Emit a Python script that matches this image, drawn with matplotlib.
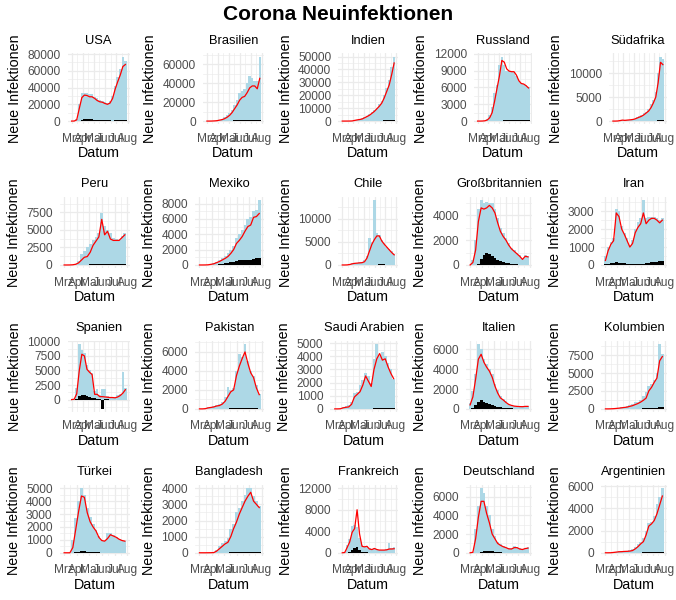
import numpy as np
import matplotlib
matplotlib.use('Agg')
import matplotlib.pyplot as plt
import matplotlib.dates as mdates
from matplotlib.ticker import MultipleLocator, FuncFormatter

plt.rcParams['font.family'] = ['Liberation Sans', 'DejaVu Sans']

# weekly values, first week starts 2020-03-01
cases_usa = [0, 100, 3000, 20000, 33000, 34000, 34000, 32000, 32000, 29000, 27000, 25000, 24000, 23000, 22000, 24000, 30000, 42000, 52000, 62000, 77000, 72000]
trend_usa = [0, 50, 1500, 15000, 28000, 31000, 30500, 29000, 29000, 27000, 24500, 23000, 22500, 21000, 20000, 21500, 27000, 38000, 47000, 55000, 65000, 67500]
deaths_usa = [0, 0, 10, 300, 1200, 2000, 2200, 2000, 1900, 1800, 1500, 1300, 1100, 900, 800, 700, 600, 700, 800, 900, 1000, 1100]

cases_bra = [0, 0, 100, 300, 800, 1500, 2500, 4000, 6000, 9000, 12000, 17000, 22000, 30000, 32000, 34000, 40000, 47000, 45000, 42000, 42000, 68000]
trend_bra = [0, 0, 50, 200, 400, 1000, 1500, 2500, 4000, 6000, 9000, 13000, 17000, 22000, 25000, 26000, 30000, 35000, 37000, 37000, 34000, 45000]
deaths_bra = [0, 0, 0, 5, 20, 60, 100, 150, 250, 400, 600, 800, 900, 1000, 1000, 1000, 1100, 1100, 1100, 1100, 1100, 1100]

cases_ind = [0, 0, 20, 60, 200, 700, 1200, 1500, 2000, 3500, 4000, 5500, 7000, 8500, 10500, 13000, 15500, 20000, 26000, 32000, 42000, 50000]
trend_ind = [0, 0, 10, 30, 100, 500, 900, 1200, 1600, 2500, 3500, 4500, 6000, 7500, 9500, 11500, 14000, 18000, 23000, 28000, 36000, 45000]
deaths_ind = [0, 0, 0, 1, 5, 20, 30, 40, 50, 80, 100, 130, 150, 200, 300, 400, 400, 450, 500, 550, 650, 750]

cases_rus = [0, 0, 20, 100, 300, 1000, 2500, 5000, 6500, 10000, 11500, 10000, 9000, 9000, 8800, 8800, 8000, 7200, 6800, 6600, 6400, 6000]
trend_rus = [0, 0, 10, 50, 200, 600, 1500, 3500, 5800, 8000, 10800, 10500, 9300, 8900, 8800, 8800, 8200, 7200, 6700, 6600, 6300, 5900]
deaths_rus = [0, 0, 0, 0, 1, 5, 15, 30, 50, 80, 100, 120, 150, 170, 150, 130, 120, 130, 140, 120, 110, 110]

cases_zaf = [0, 0, 50, 200, 250, 200, 300, 300, 400, 500, 800, 1000, 1300, 1600, 2000, 2500, 3500, 4500, 6000, 10000, 13500, 13000]
trend_zaf = [0, 0, 20, 100, 200, 150, 200, 250, 300, 400, 600, 800, 1000, 1300, 1700, 2100, 2800, 3800, 5000, 8000, 12300, 11800]
deaths_zaf = [0, 0, 0, 0, 1, 2, 3, 5, 10, 15, 20, 25, 30, 40, 50, 60, 70, 90, 110, 130, 180, 200]

cases_per = [0, 0, 10, 60, 200, 500, 1500, 2000, 2500, 3000, 3600, 4000, 4500, 7400, 5500, 5000, 4500, 3800, 3700, 3600, 4200, 4500]
trend_per = [0, 0, 5, 30, 100, 300, 700, 1100, 1200, 1800, 2800, 3400, 4000, 6500, 4300, 4800, 3700, 3500, 3500, 3500, 3900, 4300]
deaths_per = [0, 0, 0, 0, 5, 10, 20, 30, 50, 70, 100, 130, 150, 180, 200, 200, 190, 180, 180, 200, 200, 200]

cases_mex = [0, 0, 10, 40, 120, 250, 400, 600, 900, 1200, 1600, 2000, 2500, 3500, 4000, 4500, 5200, 6000, 6300, 7000, 7200, 8400]
trend_mex = [0, 0, 5, 20, 80, 150, 300, 450, 650, 850, 1100, 1500, 2000, 2800, 3200, 3700, 4400, 5000, 5200, 6200, 6300, 6700]
deaths_mex = [0, 0, 0, 1, 5, 15, 40, 80, 150, 250, 300, 350, 400, 500, 600, 600, 700, 700, 700, 800, 900, 900]

cases_chl = [0, 0, 50, 200, 350, 450, 500, 550, 600, 1000, 2000, 5800, 5000, 14000, 7000, 6500, 5500, 4800, 4000, 3500, 3000, 2400]
trend_chl = [0, 0, 20, 100, 250, 350, 400, 450, 500, 700, 1500, 3000, 4500, 5500, 6300, 6300, 5200, 4500, 3900, 3300, 2700, 2200]
deaths_chl = [0, 0, 0, 0, 2, 5, 8, 10, 12, 15, 20, 40, 60, 90, 100, 110, 120, 110, 100, 90, 80, 70]

cases_gbr = [0, 400, 2000, 4500, 5200, 5000, 5100, 5000, 5000, 4500, 3800, 3000, 2600, 2200, 1800, 1400, 1200, 1000, 800, 500, 800, 700]
trend_gbr = [0, 200, 1200, 3500, 4600, 4500, 4600, 4800, 4600, 4200, 3400, 2700, 2300, 2000, 1600, 1300, 1100, 900, 700, 450, 700, 650]
deaths_gbr = [0, 0, 5, 100, 500, 800, 1000, 900, 700, 550, 400, 300, 250, 180, 120, 90, 60, 40, 30, 20, 15, 10]

cases_irn = [500, 1000, 1300, 1500, 3100, 3000, 2200, 1800, 1500, 1100, 1400, 2000, 2400, 2600, 3600, 2600, 2700, 2700, 2700, 2600, 2500, 2600]
trend_irn = [250, 800, 1150, 1350, 2900, 2700, 2000, 1700, 1350, 1000, 1200, 1800, 2100, 2300, 2900, 2300, 2500, 2600, 2600, 2500, 2350, 2500]
deaths_irn = [30, 60, 100, 130, 140, 130, 100, 90, 80, 60, 50, 40, 50, 60, 80, 100, 120, 140, 170, 190, 200, 210]

cases_esp = [0, 100, 2000, 9500, 8500, 8000, 6000, 5000, 4500, 1500, 1800, 700, 1800, 1800, 600, 500, 500, 500, 700, 1000, 4700, 2000]
trend_esp = [0, 50, 1000, 5000, 7800, 7500, 5200, 4700, 4300, 900, 900, 500, 500, 450, 400, 350, 350, 300, 450, 700, 1100, 1700]
deaths_esp = [0, 5, 150, 600, 850, 750, 550, 450, 350, 250, 180, 100, -1600, 30, 20, 10, 5, 5, 5, 5, 5, 5]

cases_pak = [0, 0, 50, 150, 200, 300, 400, 500, 700, 1200, 2300, 2000, 2200, 4000, 5800, 5500, 6800, 5000, 4000, 3500, 2500, 1600]
trend_pak = [0, 0, 20, 100, 150, 200, 300, 350, 500, 800, 1300, 1800, 2000, 3500, 4500, 5300, 6000, 4800, 3800, 3300, 2200, 1500]
deaths_pak = [0, 0, 0, 1, 3, 5, 8, 12, 15, 20, 30, 40, 60, 80, 100, 110, 120, 100, 80, 60, 40, 30]

cases_sau = [0, 0, 20, 150, 200, 300, 500, 1200, 1300, 1800, 2200, 2700, 2500, 2000, 3800, 4900, 4000, 4300, 4000, 3500, 3000, 2300]
trend_sau = [0, 0, 10, 80, 120, 150, 350, 900, 1100, 1300, 1800, 2500, 2100, 1700, 3000, 3800, 4200, 3700, 3800, 3200, 2700, 2300]
deaths_sau = [0, 0, 0, 1, 2, 3, 4, 5, 6, 8, 10, 12, 15, 20, 30, 40, 45, 50, 45, 40, 35, 30]

cases_ita = [600, 1800, 3500, 6500, 6000, 5000, 4500, 4000, 3500, 2500, 1900, 1300, 1000, 800, 500, 400, 300, 300, 250, 250, 300, 300]
trend_ita = [400, 1200, 3000, 5000, 5500, 4700, 4200, 3800, 3200, 2300, 1600, 1100, 900, 650, 450, 350, 280, 250, 230, 220, 250, 250]
deaths_ita = [20, 100, 400, 700, 850, 700, 550, 500, 400, 300, 220, 170, 120, 80, 60, 40, 25, 15, 12, 10, 10, 10]

cases_col = [0, 0, 20, 50, 100, 150, 250, 300, 400, 500, 700, 900, 1000, 1300, 1800, 2300, 3200, 3500, 4000, 5000, 9000, 7700]
trend_col = [0, 0, 10, 30, 60, 100, 150, 200, 250, 350, 450, 600, 750, 950, 1200, 1500, 2500, 3000, 3700, 4300, 6700, 7300]
deaths_col = [0, 0, 0, 1, 3, 5, 8, 10, 12, 15, 20, 25, 30, 40, 60, 80, 100, 120, 150, 180, 250, 300]

cases_tur = [0, 0, 5, 1000, 2700, 4000, 5000, 4500, 3500, 2800, 2200, 1800, 1300, 1000, 950, 1500, 1550, 1400, 1250, 1100, 1000, 950]
trend_tur = [0, 0, 0, 400, 1800, 3200, 4400, 4300, 3100, 2400, 2000, 1700, 1200, 950, 900, 1100, 1400, 1300, 1200, 1050, 950, 900]
deaths_tur = [0, 0, 0, 10, 50, 80, 120, 110, 90, 60, 40, 30, 25, 20, 18, 20, 20, 18, 15, 15, 15, 15]

cases_bgd = [0, 0, 2, 5, 10, 30, 200, 400, 600, 700, 900, 1500, 1800, 2500, 2800, 3200, 3600, 4000, 4000, 3500, 3200, 2900]
trend_bgd = [0, 0, 0, 2, 5, 10, 100, 250, 400, 550, 650, 1000, 1500, 1900, 2400, 2800, 3200, 3500, 3750, 3200, 3000, 2800]
deaths_bgd = [0, 0, 0, 0, 1, 2, 4, 6, 8, 12, 15, 20, 30, 40, 40, 45, 45, 40, 40, 35, 35, 35]

cases_fra = [0, 100, 1500, 2500, 5000, 5200, 4800, 2800, 1500, 1200, 1300, 800, 700, 900, 700, 600, 600, 600, 700, 1800, 900, 1100]
trend_fra = [0, 50, 1000, 2000, 3800, 4500, 8000, 3500, 1200, 1100, 1200, 700, 600, 800, 600, 500, 500, 500, 550, 700, 700, 750]
deaths_fra = [0, 0, 10, 200, 500, 900, 1100, 500, 200, 100, 60, 40, 30, 20, 20, 15, 15, 12, 12, 10, 10, 10]

cases_deu = [0, 100, 2500, 5000, 6900, 6400, 5000, 4000, 2500, 1800, 1200, 900, 700, 600, 500, 500, 700, 600, 500, 450, 550, 600]
trend_deu = [0, 50, 1500, 3800, 5500, 5500, 4200, 3200, 2000, 1500, 1000, 800, 650, 550, 420, 400, 550, 550, 400, 350, 450, 500]
deaths_deu = [0, 0, 0, 10, 80, 150, 200, 200, 150, 100, 60, 30, 20, 15, 10, 8, 5, 5, 5, 5, 5, 5]

cases_arg = [0, 0, 10, 60, 100, 150, 150, 200, 200, 250, 300, 500, 800, 1000, 1300, 2000, 2700, 2800, 3300, 4400, 5000, 5800]
trend_arg = [0, 0, 5, 30, 60, 90, 100, 120, 130, 150, 200, 350, 550, 800, 1000, 1600, 2400, 2600, 2900, 3500, 4300, 5100]
deaths_arg = [0, 0, 0, 1, 3, 5, 8, 10, 8, 6, 8, 10, 15, 20, 30, 40, 50, 60, 70, 80, 100, 110]

names = ['USA', 'Brasilien', 'Indien', 'Russland', 'Südafrika',
         'Peru', 'Mexiko', 'Chile', 'Großbritannien', 'Iran',
         'Spanien', 'Pakistan', 'Saudi Arabien', 'Italien', 'Kolumbien',
         'Türkei', 'Bangladesh', 'Frankreich', 'Deutschland', 'Argentinien']
tick_steps = [20000, 20000, 10000, 3000, 5000,
              2500, 2000, 5000, 2000, 1000,
              2500, 2000, 1000, 2000, 2500,
              1000, 1000, 4000, 2000, 2000]
# daily peaks not visible at weekly resolution, but they set the y range
y_peak = {'Peru': 9200, 'Frankreich': 12000}

all_cases = [cases_usa, cases_bra, cases_ind, cases_rus, cases_zaf, cases_per, cases_mex,
             cases_chl, cases_gbr, cases_irn, cases_esp, cases_pak, cases_sau, cases_ita,
             cases_col, cases_tur, cases_bgd, cases_fra, cases_deu, cases_arg]
all_trend = [trend_usa, trend_bra, trend_ind, trend_rus, trend_zaf, trend_per, trend_mex,
             trend_chl, trend_gbr, trend_irn, trend_esp, trend_pak, trend_sau, trend_ita,
             trend_col, trend_tur, trend_bgd, trend_fra, trend_deu, trend_arg]
all_deaths = [deaths_usa, deaths_bra, deaths_ind, deaths_rus, deaths_zaf, deaths_per, deaths_mex,
              deaths_chl, deaths_gbr, deaths_irn, deaths_esp, deaths_pak, deaths_sau, deaths_ita,
              deaths_col, deaths_tur, deaths_bgd, deaths_fra, deaths_deu, deaths_arg]

months_de = {3: 'Mrz', 4: 'Apr', 5: 'Mai', 6: 'Jun', 7: 'Jul', 8: 'Aug'}

start = mdates.date2num(np.datetime64('2020-03-01'))
x = start + 7 * np.arange(len(cases_usa))

W, H = 676, 600
fig = plt.figure(figsize=(W / 100, H / 100), dpi=100)
fig.text(0.5, 1 - 14 / H, 'Corona Neuinfektionen', ha='center', va='center',
         fontsize=15, fontweight='bold')

month_fmt = FuncFormatter(lambda v, pos: months_de.get(mdates.num2date(v).month, ''))

for i, name in enumerate(names):
    cases, trend, deaths = all_cases[i], all_trend[i], all_deaths[i]
    step = tick_steps[i]
    r, c = divmod(i, 5)

    lo = min(0, min(deaths))
    hi = max(max(cases), max(trend), y_peak.get(name, 0))
    pad = 0.05 * (hi - lo)
    y0, y1 = lo - pad, hi + pad
    nd = len(str(int(y1 // step * step)))

    tc = 38.3 + 143.9 * r
    top, bot = tc + 15, tc + 86
    right = 129.5 + 134.3 * c
    left = 27.5 + 135.4 * c + 8 * nd
    ax = fig.add_axes([left / W, 1 - bot / H, (right - left) / W, (bot - top) / H])

    ax.bar(x, cases, width=7, color='#ADD8E6', linewidth=0)
    ax.bar(x, deaths, width=7, color='black', linewidth=0)
    ax.plot(x, trend, color='red', lw=0.9)

    x0, x1 = x[0] - 3.5, x[-1] + 3.5
    xp = 0.05 * (x1 - x0)
    ax.set_xlim(x0 - xp, x1 + xp)
    ax.set_ylim(y0, y1)

    ax.xaxis.set_major_locator(mdates.MonthLocator())
    ax.xaxis.set_minor_locator(mdates.MonthLocator(bymonthday=16))
    ax.xaxis.set_major_formatter(month_fmt)
    ax.yaxis.set_major_locator(MultipleLocator(step))
    ax.yaxis.set_minor_locator(MultipleLocator(step / 2))
    ax.yaxis.set_major_formatter(FuncFormatter(lambda v, pos: '%d' % v))

    ax.grid(which='major', color='#EBEBEB', lw=0.9)
    ax.grid(which='minor', color='#EBEBEB', lw=0.45)
    ax.set_axisbelow(True)
    for s in ax.spines.values():
        s.set_visible(False)
    ax.tick_params(which='both', length=0, labelsize=8.6, labelcolor='#4D4D4D')
    ax.tick_params(axis='x', pad=6)
    ax.tick_params(axis='y', pad=5)

    ax.set_title(name, fontsize=9.3, pad=7)
    ax.set_xlabel('Datum', fontsize=10.3, labelpad=1)
    ax.set_ylabel('Neue Infektionen', fontsize=10.3, labelpad=4)

fig.savefig('out.png', dpi=100)
